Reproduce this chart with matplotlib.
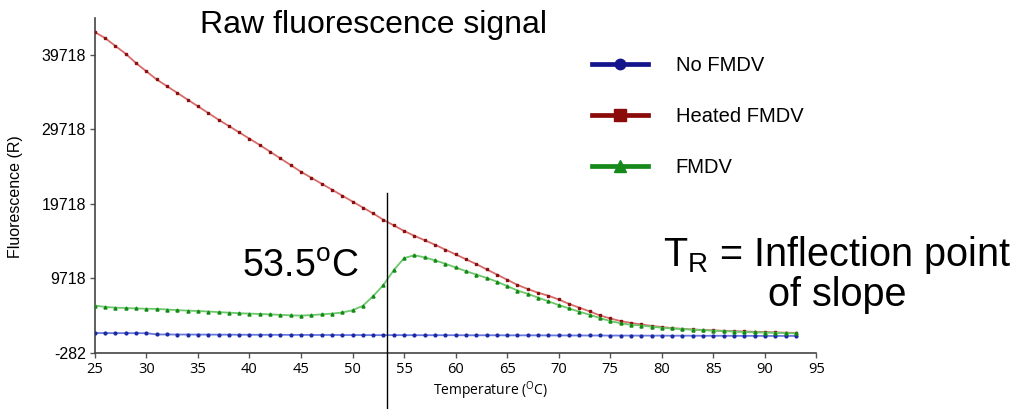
import matplotlib
matplotlib.use("Agg")
import matplotlib.pyplot as plt
from matplotlib.lines import Line2D

plt.rcParams["font.family"] = ["Liberation Sans", "DejaVu Sans"]

# temperatures (deg C) and readings
temps = list(range(25, 94))

no_fmdv = [2350, 2340, 2330, 2330, 2320, 2320, 2150, 2150, 2140, 2140,
           2130, 2130, 2120, 2120, 2110, 2110, 2100, 2100, 2100, 2090,
           2090, 2080, 2080, 2080, 2070, 2070, 2070, 2060, 2060, 2060,
           2060, 2050, 2050, 2050, 2050, 2050, 2040, 2040, 2040, 2040,
           2030, 2030, 2030, 2030, 2020, 2020, 2020, 2010, 2010, 2010,
           2000, 2000, 2000, 1990, 1990, 1990, 1980, 1980, 1980, 1970,
           1970, 1970, 1960, 1960, 1960, 1950, 1950, 1950, 1950]

heated_fmdv = [42770, 41960, 40900, 39850, 38600, 37500, 36400, 35500, 34600, 33700,
               32800, 31900, 31000, 30150, 29300, 28450, 27600, 26700, 25800, 24900,
               24000, 23200, 22400, 21600, 20800, 20000, 19200, 18400, 17550, 16800,
               16050, 15400, 14800, 14200, 13550, 12900, 12250, 11600, 10900, 10200,
               9500, 8800, 8250, 7750, 7350, 6850, 6250, 5750, 5250, 4700,
               4300, 3950, 3700, 3500, 3300, 3150, 3000, 2900, 2820, 2760,
               2700, 2640, 2590, 2550, 2510, 2470, 2430, 2390, 2360]

fmdv = [6025, 5850, 5750, 5700, 5650, 5600, 5580, 5500, 5420, 5350,
        5300, 5230, 5150, 5080, 5000, 4950, 4900, 4850, 4780, 4720,
        4680, 4750, 4850, 4950, 5100, 5400, 6000, 7300, 8800, 10800,
        12400, 12800, 12500, 12100, 11650, 11150, 10650, 10200, 9750, 9250,
        8650, 8050, 7600, 7100, 6600, 6100, 5650, 5200, 4800, 4350,
        3950, 3650, 3450, 3350, 3200, 3050, 2950, 2870, 2800, 2730,
        2660, 2600, 2540, 2480, 2440, 2400, 2370, 2330, 2290]

y_ticks = [-282, 9718, 19718, 29718, 39718]
x_ticks = list(range(25, 100, 5))

fig = plt.figure(figsize=(10.14, 4.09), dpi=100)
ax = fig.add_axes([0.0935, 0.138, 0.7117, 0.818])

# thin light line + small dark dots, like the instrument export
ax.plot(temps, no_fmdv, color="#6a78e0", lw=1.3, marker="o", ms=2.0,
        mfc="#1a2aa0", mec="#1a2aa0", zorder=3)
ax.plot(temps, heated_fmdv, color="#d86a6a", lw=1.3, marker="s", ms=2.0,
        mfc="#8b1010", mec="#8b1010", zorder=3)
ax.plot(temps, fmdv, color="#6cc86c", lw=1.3, marker="^", ms=2.2,
        mfc="#138a13", mec="#138a13", zorder=4)

ax.set_xlim(25, 95)
ax.set_ylim(-282, 44660)
ax.set_xticks(x_ticks)
ax.set_yticks(y_ticks)
ax.set_yticklabels([str(v) for v in y_ticks], fontsize=11.5)
ax.set_xticklabels([str(v) for v in x_ticks], fontsize=10.5, family=["Open Sans", "DejaVu Sans"])
ax.tick_params(axis="both", length=3.5, width=1, color="#555555", pad=3)

for side in ["top", "right"]:
    ax.spines[side].set_visible(False)
for side in ["left", "bottom"]:
    ax.spines[side].set_color("#444444")
    ax.spines[side].set_linewidth(1.2)

ax.set_xlabel(r"Temperature ($^\mathregular{O}$C)", fontsize=10,
              family=["Open Sans", "DejaVu Sans"])
ax.xaxis.set_label_coords(0.548, -0.08)
ax.set_ylabel("Fluorescence (R)", fontsize=11.5)
ax.yaxis.set_label_coords(-0.1, 0.466)

# T_R marker line, runs below the axis
ax.axvline(53.3, ymin=-0.2, ymax=0.476, color="black", lw=1, clip_on=False, zorder=5)

handles = [
    Line2D([], [], color="#13138c", lw=3.4, marker="o", ms=7.5),
    Line2D([], [], color="#8b0a0a", lw=3.4, marker="s", ms=8),
    Line2D([], [], color="#15891a", lw=3.4, marker="^", ms=8),
]
labels = ["No FMDV", "Heated FMDV", "FMDV"]
fig.legend(handles, labels, loc="upper left", bbox_to_anchor=(592 / 1014, 1 - 56 / 409),
           frameon=False, fontsize=14.5, borderpad=0, borderaxespad=0,
           handlelength=2.8, handletextpad=1.35, labelspacing=1.6)

fig.text(374 / 1014, 1 - 33 / 409, "Raw fluorescence signal", fontsize=23,
         ha="center", va="baseline")
fig.text(241.7 / 1014, 1 - 276.7 / 409, r"53.5$^\mathregular{o}$C", fontsize=27,
         ha="left", va="baseline")
fig.text(837 / 1014, 1 - 306 / 409,
         "$\\mathregular{T_R}$ = Inflection point\nof slope", fontsize=28.5,
         ha="center", va="baseline", multialignment="center", linespacing=1.0)

fig.savefig("out.png", dpi=100)
